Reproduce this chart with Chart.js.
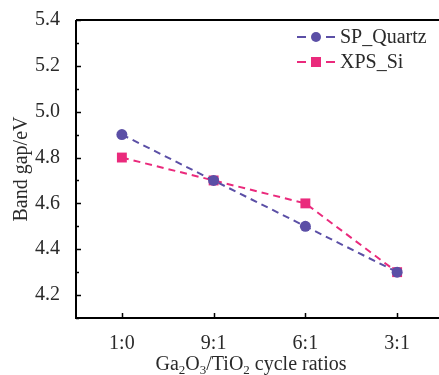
<!DOCTYPE html>
<html>
<head>
<meta charset="utf-8">
<script src="https://cdn.jsdelivr.net/npm/chart.js@4/dist/chart.umd.min.js"></script>
<style>
  html, body { margin: 0; padding: 0; overflow: hidden; background: #fff; }
  #wrap { width: 450px; height: 375px; }
</style>
</head>
<body>
<div id="wrap"><canvas id="bandgap" width="450" height="375"></canvas></div>
<script>
// data
const ratios = ['1:0', '9:1', '6:1', '3:1'];
const spQuartz = [4.9, 4.7, 4.5, 4.3];
const xpsSi = [4.8, 4.7, 4.6, 4.3];
const seriesNames = ['SP_Quartz', 'XPS_Si'];

const purple = '#5b4fa6';
const pink = '#ea2a7c';
const FONT = 'Liberation Serif, serif';
const ink = '#2a2a2a';

// inward ticks, frame, titles and legend drawn by hand
const decor = {
  id: 'decor',
  afterDraw(chart) {
    const ctx = chart.ctx;
    const a = chart.chartArea;
    const x = chart.scales.x, y = chart.scales.y;
    ctx.save();
    ctx.strokeStyle = '#000';
    ctx.lineWidth = 2;
    ctx.beginPath();
    ctx.moveTo(a.left, a.top); ctx.lineTo(a.right, a.top);
    ctx.moveTo(a.left, a.top); ctx.lineTo(a.left, a.bottom);
    ctx.lineTo(a.right, a.bottom); ctx.lineTo(a.right, a.top);
    ctx.stroke();

    ctx.lineWidth = 1.5;
    ctx.beginPath();
    y.ticks.forEach(t => {
      const py = Math.round(y.getPixelForValue(t.value)) + 0.5;
      const len = Math.round(t.value * 10) % 2 === 0 ? 5 : 3;
      ctx.moveTo(a.left, py); ctx.lineTo(a.left + len, py);
    });
    ratios.forEach((r, i) => {
      const px = Math.round(x.getPixelForValue(i)) + 0.5;
      ctx.moveTo(px, a.bottom); ctx.lineTo(px, a.bottom - 5);
    });
    ctx.stroke();

    // y title
    ctx.fillStyle = ink;
    ctx.font = '20px ' + FONT;
    ctx.textAlign = 'center';
    ctx.textBaseline = 'middle';
    ctx.save();
    ctx.translate(22, 169);
    ctx.rotate(-Math.PI / 2);
    ctx.fillText('Band gap/eV', 0, 0);
    ctx.restore();

    // x title with subscripts
    const parts = [['Ga', 0], ['2', 1], ['O', 0], ['3', 1], ['/TiO', 0], ['2', 1], [' cycle ratios', 0]];
    const big = '20px ' + FONT, small = '13px ' + FONT;
    let total = 0;
    parts.forEach(p => { ctx.font = p[1] ? small : big; total += ctx.measureText(p[0]).width; });
    let cx = 251 - total / 2;
    ctx.textAlign = 'left';
    ctx.textBaseline = 'alphabetic';
    parts.forEach(p => {
      ctx.font = p[1] ? small : big;
      ctx.fillText(p[0], cx, p[1] ? 374 : 370);
      cx += ctx.measureText(p[0]).width;
    });

    // legend
    const rows = [[seriesNames[0], purple, 'circle', 37], [seriesNames[1], pink, 'rect', 62]];
    rows.forEach(([name, col, shape, ly]) => {
      ctx.strokeStyle = col;
      ctx.fillStyle = col;
      ctx.lineWidth = 2;
      ctx.beginPath();
      ctx.moveTo(297, ly); ctx.lineTo(306, ly);
      ctx.moveTo(326, ly); ctx.lineTo(335, ly);
      ctx.stroke();
      ctx.beginPath();
      if (shape === 'circle') ctx.arc(316, ly, 5, 0, Math.PI * 2);
      else ctx.rect(311, ly - 5, 10, 10);
      ctx.fill();
      ctx.fillStyle = ink;
      ctx.font = '20px ' + FONT;
      ctx.textBaseline = 'middle';
      ctx.fillText(name, 340, ly + 1);
    });
    ctx.restore();
  }
};

new Chart(document.getElementById('bandgap'), {
  type: 'line',
  data: {
    labels: ratios,
    datasets: [
      {
        label: seriesNames[0],
        data: spQuartz,
        borderColor: purple,
        backgroundColor: purple,
        borderWidth: 2,
        borderDash: [7, 5],
        pointStyle: 'circle',
        pointRadius: 5.5,
        pointBorderWidth: 0,
        pointHoverRadius: 5.5
      },
      {
        label: seriesNames[1],
        data: xpsSi,
        borderColor: pink,
        backgroundColor: pink,
        borderWidth: 2,
        borderDash: [7, 5],
        pointStyle: 'rect',
        pointRadius: 7,
        pointBorderWidth: 0,
        pointHoverRadius: 7
      }
    ]
  },
  options: {
    responsive: false,
    animation: false,
    layout: { padding: { top: 20, right: 6, left: 0, bottom: 0 } },
    plugins: { legend: { display: false }, tooltip: { enabled: false } },
    scales: {
      x: {
        offset: true,
        grid: { display: false },
        border: { display: false },
        ticks: { color: ink, font: { family: FONT, size: 20 }, padding: 6 },
        afterFit: s => { s.height = 57; }
      },
      y: {
        min: 4.1,
        max: 5.4,
        grid: { display: false },
        border: { display: false },
        ticks: {
          stepSize: 0.1,
          autoSkip: false,
          color: ink,
          font: { family: FONT, size: 20 },
          padding: 8,
          callback: v => (Math.round(v * 10) % 2 === 0 ? Number(v).toFixed(1) : '')
        },
        afterFit: s => { s.width = 76; }
      }
    }
  },
  plugins: [decor]
});
</script>
</body>
</html>
